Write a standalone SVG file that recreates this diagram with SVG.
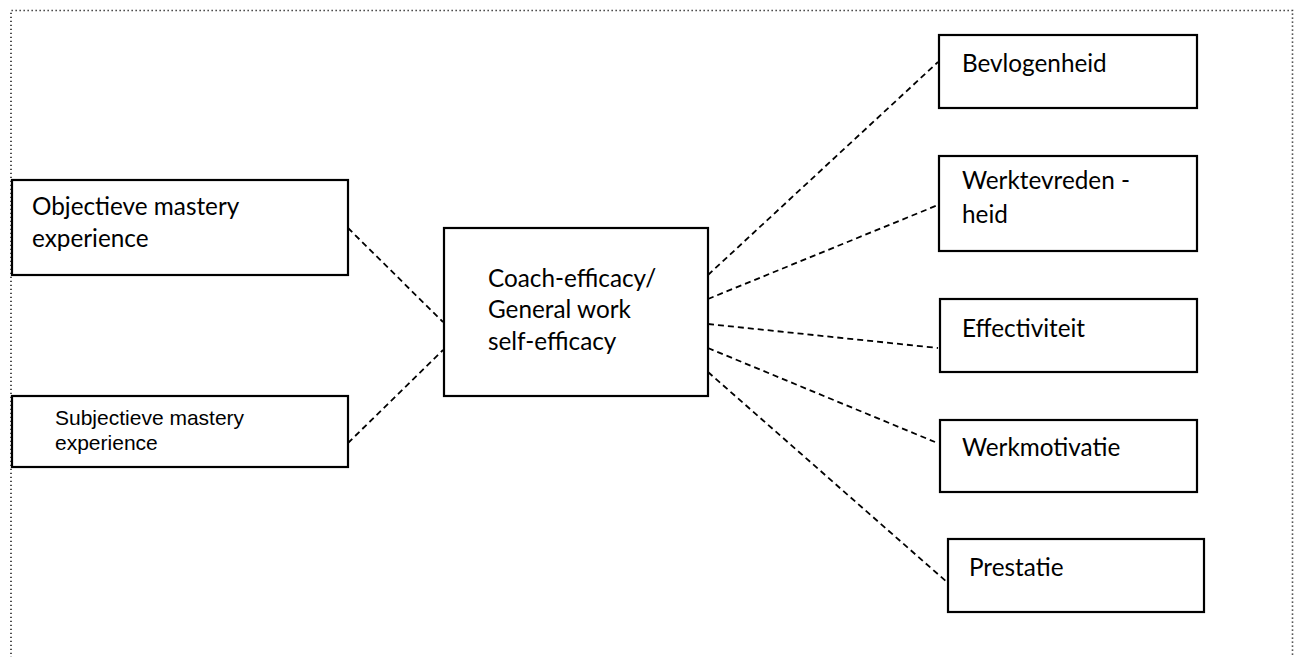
<svg xmlns="http://www.w3.org/2000/svg" width="1300" height="657" viewBox="0 0 1300 657">
<style>
.frame{fill:none;stroke:#222;stroke-width:1.6;stroke-dasharray:1.3 2.7}
.box{fill:#fff;stroke:#000;stroke-width:2.2}
.c{font-family:Lato,"Liberation Sans",sans-serif;font-size:24.3px;fill:#000}
.a{font-family:"Liberation Sans",Arial,sans-serif;font-size:21px;fill:#000}
.link{stroke:#000;stroke-width:1.8;stroke-dasharray:6 4;fill:none}
</style>
<rect width="1300" height="657" fill="#fff"/>
<path class="frame" d="M11 662 V10.5 H1292.5 V662"/>
<g id="connectors">
<line class="link" x1="348" y1="228" x2="443" y2="322"/>
<line class="link" x1="348" y1="443" x2="443" y2="350"/>
<line class="link" x1="708" y1="275" x2="938" y2="62"/>
<line class="link" x1="708" y1="299" x2="938" y2="205"/>
<line class="link" x1="708" y1="324" x2="938" y2="348"/>
<line class="link" x1="708" y1="348" x2="935" y2="442"/>
<line class="link" x1="708" y1="372" x2="948" y2="583"/>
</g>
<g id="objectieve">
<rect class="box" x="12" y="180" width="336" height="95"/>
<text class="c" x="32" y="215">Objectieve mastery</text>
<text class="c" x="32" y="247">experience</text>
</g>
<g id="subjectieve">
<rect class="box" x="12" y="396" width="336" height="71"/>
<text class="a" x="55" y="425">Subjectieve mastery</text>
<text class="a" x="55" y="450">experience</text>
</g>
<g id="center">
<rect class="box" x="444" y="228" width="264" height="168"/>
<text class="c" x="488" y="287">Coach-efficacy/</text>
<text class="c" x="488" y="318">General work</text>
<text class="c" x="488" y="350">self-efficacy</text>
</g>
<g id="bevlogenheid">
<rect class="box" x="939" y="35" width="258" height="73"/>
<text class="c" x="962" y="72">Bevlogenheid</text>
</g>
<g id="werktevredenheid">
<rect class="box" x="939" y="156" width="258" height="95"/>
<text class="c" x="962" y="189">Werktevreden -</text>
<text class="c" x="962" y="223">heid</text>
</g>
<g id="effectiviteit">
<rect class="box" x="940" y="299" width="257" height="73"/>
<text class="c" x="962" y="337">Effectiviteit</text>
</g>
<g id="werkmotivatie">
<rect class="box" x="940" y="420" width="257" height="72"/>
<text class="c" x="962" y="456">Werkmotivatie</text>
</g>
<g id="prestatie">
<rect class="box" x="948" y="539" width="256" height="73"/>
<text class="c" x="969" y="576">Prestatie</text>
</g>
</svg>
